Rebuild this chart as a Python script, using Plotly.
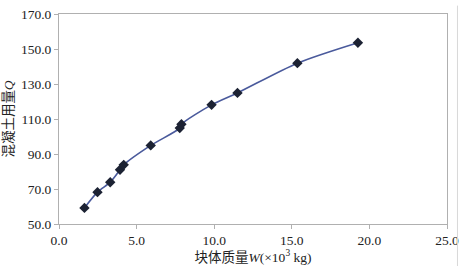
import plotly.graph_objects as go

mass_w = [1.64, 2.48, 3.30, 3.93, 4.17, 5.91, 7.78, 7.89, 9.83, 11.5, 15.36, 19.26]
concrete_q = [59.2, 68.2, 73.9, 81.0, 83.8, 94.9, 104.8, 107.0, 118.1, 124.9, 141.9, 153.6]
x_ticks = [0, 5, 10, 15, 20, 25]
y_ticks = [50, 70, 90, 110, 130, 150, 170]

font = "Liberation Serif, Noto Sans CJK SC"

fig = go.Figure()
fig.add_trace(go.Scatter(
    x=mass_w, y=concrete_q, mode="lines+markers",
    line=dict(color="#4a5a9c", width=1.6, shape="spline", smoothing=0.8),
    marker=dict(symbol="diamond", size=8, color="#1c2233",
                line=dict(color="#1c2233", width=0)),
    showlegend=False,
))

axis_common = dict(showgrid=False, zeroline=False, showline=True, linecolor="#b0b0b0",
                   linewidth=1, mirror=True, ticks="outside", tickcolor="#b0b0b0",
                   ticklen=4, tickfont=dict(family=font, size=13.5, color="#222"))

fig.update_xaxes(range=[0, 25], tickvals=x_ticks, tickformat=".1f",
                 title=dict(text="块体质量<i>W</i>(×10<sup>3</sup> kg)", standoff=4,
                            font=dict(family=font, size=13.5, color="#222")),
                 **axis_common)
fig.update_yaxes(range=[50, 170], tickvals=y_ticks, tickformat=".1f",
                 title=dict(text="混凝土用量<i>Q</i>", standoff=4,
                            font=dict(family=font, size=13.5, color="#222")),
                 **axis_common)

fig.add_shape(type="line", xref="paper", yref="paper", x0=1.027, x1=1.027, y0=-0.2, y1=1.04,
              line=dict(color="#d8d8d8", width=1))

fig.update_layout(width=466, height=269, margin=dict(l=55, r=15, t=7, b=43),
                  paper_bgcolor="white", plot_bgcolor="white",
                  font=dict(family=font))

fig.write_html("out.html")
